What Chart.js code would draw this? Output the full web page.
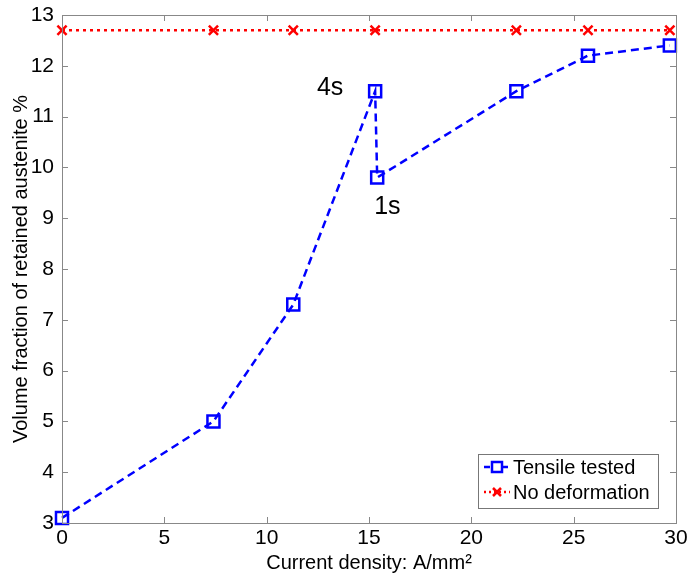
<!DOCTYPE html>
<html>
<head>
<meta charset="utf-8">
<script src="https://cdn.jsdelivr.net/npm/chart.js@4.4.0/dist/chart.umd.min.js"></script>
<style>
  html, body { margin: 0; padding: 0; background: #fff; }
  #wrap { width: 691px; height: 577px; }
</style>
</head>
<body>
<div id="wrap"><canvas id="chart"></canvas></div>
<script>
// data
const tensileX = [0, 7.4, 11.3, 15.3, 15.4, 22.2, 25.7, 29.7];
const tensileY = [3.1, 5.0, 7.3, 11.5, 9.8, 11.5, 12.2, 12.4];
const noDefX = [0, 7.4, 11.3, 15.3, 22.2, 25.7, 29.7];
const noDefY = [12.7, 12.7, 12.7, 12.7, 12.7, 12.7, 12.7];
const xTicks = [0, 5, 10, 15, 20, 25, 30];
const yTicks = [3, 4, 5, 6, 7, 8, 9, 10, 11, 12, 13];
const notes = [
    { text: "4s", x: 13.1, y: 11.56 },
    { text: "1s", x: 15.9, y: 9.22 },
];

const FONT = "'Liberation Sans', Arial, sans-serif";

// matlab style: ticks pointing inward on all four sides
const innerTicks = {
    id: "innerTicks",
    afterDraw(chart) {
        const ctx = chart.ctx;
        const a = chart.chartArea;
        const xs = chart.scales.x;
        const ys = chart.scales.y;
        const len = 6;
        ctx.save();
        ctx.strokeStyle = "#888";
        ctx.lineWidth = 1;
        ctx.beginPath();
        xTicks.forEach((v) => {
            const px = Math.round(xs.getPixelForValue(v)) + 0.5;
            ctx.moveTo(px, a.bottom);
            ctx.lineTo(px, a.bottom - len);
            ctx.moveTo(px, a.top);
            ctx.lineTo(px, a.top + len);
        });
        yTicks.forEach((v) => {
            const py = Math.round(ys.getPixelForValue(v)) + 0.5;
            ctx.moveTo(a.left, py);
            ctx.lineTo(a.left + len, py);
            ctx.moveTo(a.right, py);
            ctx.lineTo(a.right - len, py);
        });
        ctx.stroke();
        ctx.strokeRect(Math.round(a.left) + 0.5, Math.round(a.top) + 0.5,
            Math.round(a.right - a.left), Math.round(a.bottom - a.top));

        // annotations
        ctx.fillStyle = "#000";
        ctx.font = "25px " + FONT;
        ctx.textAlign = "center";
        ctx.textBaseline = "middle";
        notes.forEach((n) => {
            ctx.fillText(n.text, xs.getPixelForValue(n.x), ys.getPixelForValue(n.y));
        });

        // legend box in the lower right corner
        const lx = 478, ly = 454, lw = 180, lh = 54;
        ctx.fillStyle = "#fff";
        ctx.fillRect(lx, ly, lw, lh);
        ctx.strokeStyle = "#777";
        ctx.strokeRect(lx + 0.5, ly + 0.5, lw, lh);
        const items = [
            { label: "Tensile tested", color: "#0000ff", dash: [6, 3], marker: "square" },
            { label: "No deformation", color: "#ff0000", dash: [2, 3], marker: "cross" },
        ];
        items.forEach((it, i) => {
            const cy = ly + 13 + i * 25;
            ctx.strokeStyle = it.color;
            ctx.lineWidth = 2.5;
            ctx.setLineDash(it.dash);
            ctx.beginPath();
            ctx.moveTo(lx + 6, cy);
            ctx.lineTo(lx + 32, cy);
            ctx.stroke();
            ctx.setLineDash([]);
            if (it.marker === "square") {
                ctx.fillStyle = "#fff";
                ctx.fillRect(lx + 14, cy - 5, 10, 10);
                ctx.strokeRect(lx + 14, cy - 5, 10, 10);
            } else {
                ctx.beginPath();
                ctx.moveTo(lx + 15, cy - 4);
                ctx.lineTo(lx + 23, cy + 4);
                ctx.moveTo(lx + 23, cy - 4);
                ctx.lineTo(lx + 15, cy + 4);
                ctx.stroke();
            }
            ctx.fillStyle = "#000";
            ctx.font = "20px " + FONT;
            ctx.textAlign = "left";
            ctx.fillText(it.label, lx + 35, cy + 1);
        });
        ctx.restore();
    },
};

const ctx = document.getElementById("chart").getContext("2d");
new Chart(ctx, {
    type: "line",
    data: {
        datasets: [
            {
                label: "Tensile tested",
                data: tensileX.map((x, i) => ({ x: x, y: tensileY[i] })),
                borderColor: "#0000ff",
                backgroundColor: "rgba(255,255,255,0)",
                borderWidth: 2.5,
                borderDash: [8, 5],
                pointStyle: "rect",
                pointRadius: 8.5,
                pointBorderWidth: 2.5,
                pointBorderColor: "#0000ff",
                pointBackgroundColor: "rgba(255,255,255,0)",
                tension: 0,
            },
            {
                label: "No deformation",
                data: noDefX.map((x, i) => ({ x: x, y: noDefY[i] })),
                borderColor: "#ff0000",
                borderWidth: 2.5,
                borderDash: [3, 4],
                pointStyle: "crossRot",
                pointRadius: 6.5,
                pointBorderWidth: 2.5,
                pointBorderColor: "#ff0000",
                tension: 0,
            },
        ],
    },
    options: {
        responsive: true,
        maintainAspectRatio: false,
        animation: false,
        clip: false,
        layout: { padding: { top: 15, right: 15, left: 0, bottom: 0 } },
        plugins: {
            legend: { display: false },
            tooltip: { enabled: false },
        },
        scales: {
            x: {
                type: "linear",
                min: 0,
                max: 30,
                afterBuildTicks: (s) => { s.ticks = xTicks.map((v) => ({ value: v })); },
                afterFit: (s) => {
                    s.height = 54;
                    s.paddingLeft = 0;
                    s.paddingRight = 0;
                },
                grid: { display: false, drawTicks: false },
                border: { display: false },
                ticks: {
                    color: "#000",
                    padding: 3,
                    font: { family: FONT, size: 21 },
                    maxRotation: 0,
                },
                title: {
                    display: true,
                    text: "Current density: A/mm²",
                    color: "#000",
                    font: { family: FONT, size: 20 },
                    padding: { top: 0, bottom: 2 },
                },
            },
            y: {
                type: "linear",
                min: 3,
                max: 13,
                afterBuildTicks: (s) => { s.ticks = yTicks.map((v) => ({ value: v })); },
                afterFit: (s) => {
                    s.width = 62;
                    s.paddingTop = 0;
                    s.paddingBottom = 0;
                },
                grid: { display: false, drawTicks: false },
                border: { display: false },
                ticks: {
                    color: "#000",
                    padding: 8,
                    font: { family: FONT, size: 21 },
                },
                title: {
                    display: true,
                    text: "Volume fraction of retained austenite %",
                    color: "#000",
                    font: { family: FONT, size: 20 },
                    padding: { top: 9, bottom: 0 },
                },
            },
        },
    },
    plugins: [innerTicks],
});
</script>
</body>
</html>
